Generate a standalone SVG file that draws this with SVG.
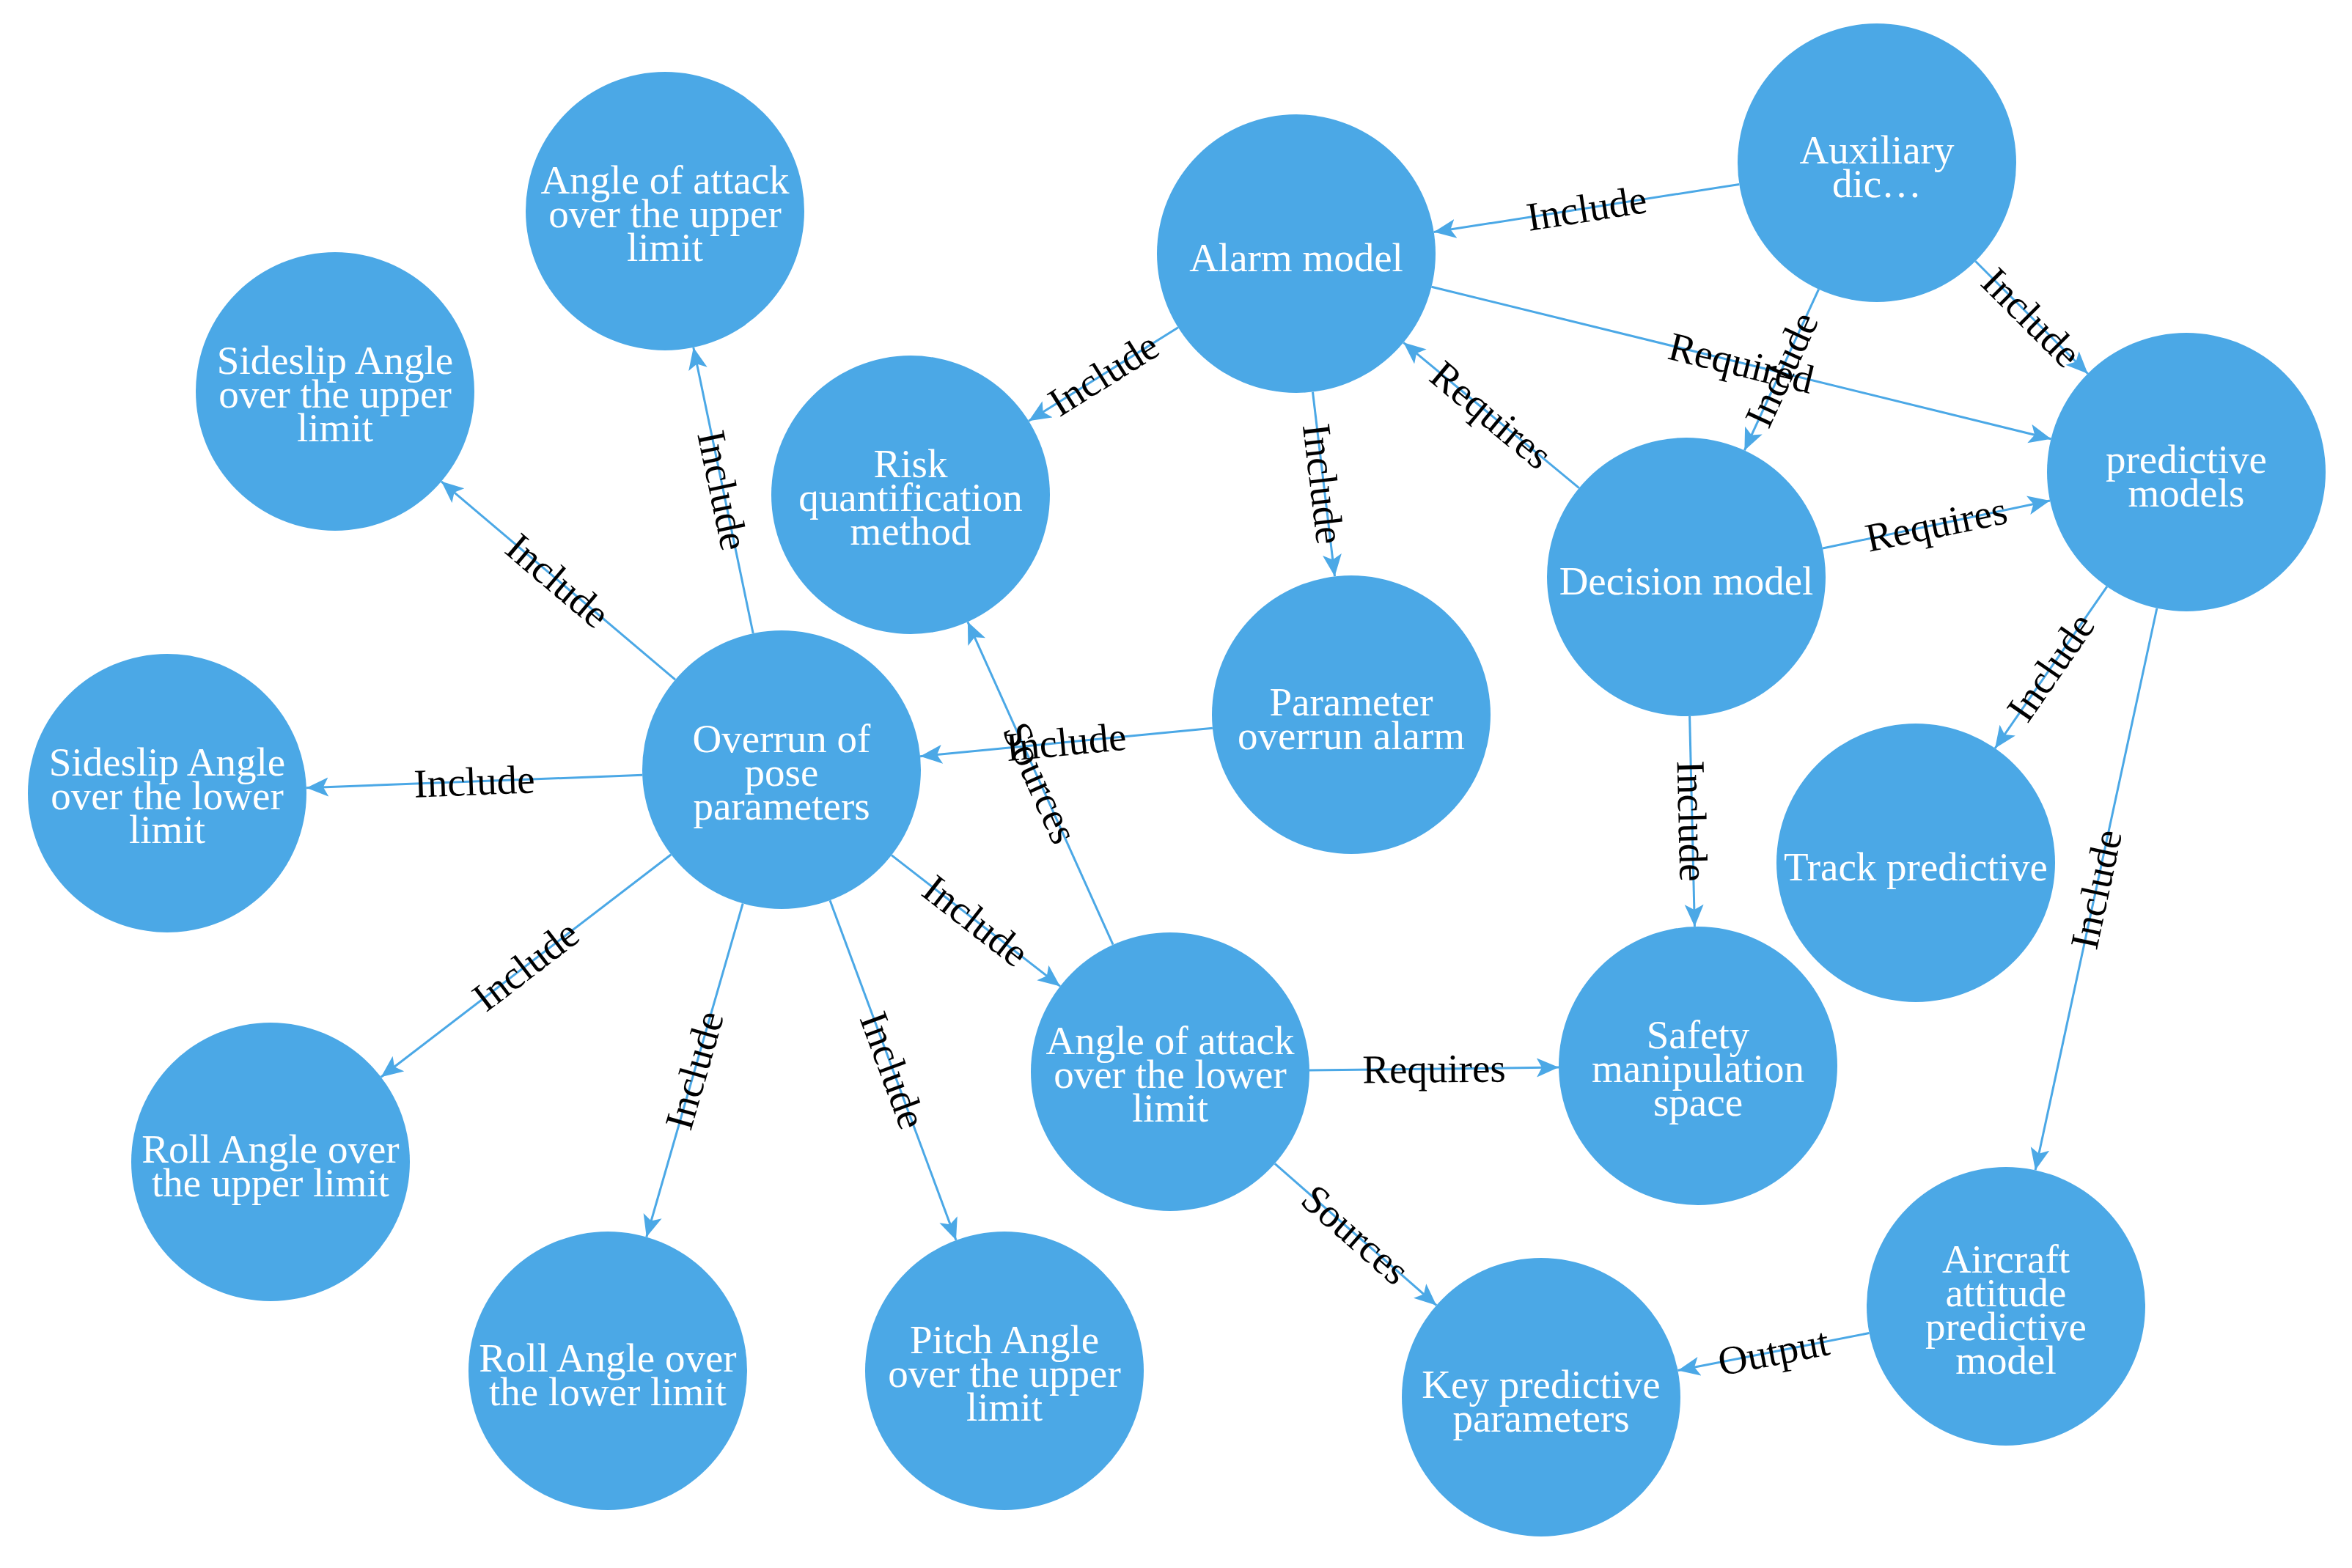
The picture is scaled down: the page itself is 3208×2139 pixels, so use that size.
<svg xmlns="http://www.w3.org/2000/svg" width="3208" height="2139" viewBox="0 0 3208 2139">
<style>
.node circle{fill:#4ba8e6;}
.node text{fill:#ffffff;font-family:"Liberation Serif","Times New Roman",serif;font-size:55px;text-anchor:middle;dominant-baseline:central;}
.edges line{stroke:#4ba8e6;stroke-width:3;marker-end:url(#arr);}
.lbl{fill:#000000;font-family:"Liberation Serif","Times New Roman",serif;font-size:55px;text-anchor:middle;dominant-baseline:central;}
</style>
<defs>
<marker id="arr" markerUnits="userSpaceOnUse" markerWidth="32" markerHeight="28" refX="30" refY="13" orient="auto">
<path d="M0,0 L30,13 L0,26 L7,13 z" fill="#4ba8e6"/>
</marker>
</defs>
<rect width="3208" height="2139" fill="#ffffff"/>
<g id="edges" class="edges">
<line x1="1027.2" y1="864" x2="945.8" y2="474"/>
<line x1="921" y1="927.2" x2="602" y2="656.8"/>
<line x1="876.1" y1="1057.3" x2="417.9" y2="1074.7"/>
<line x1="915.3" y1="1165.7" x2="519.7" y2="1469.3"/>
<line x1="1013.2" y1="1232.5" x2="881.8" y2="1687.5"/>
<line x1="1132" y1="1228.2" x2="1304" y2="1691.8"/>
<line x1="1216" y1="1166.6" x2="1446" y2="1345.4"/>
<line x1="1653.9" y1="993.3" x2="1255.1" y2="1031.7"/>
<line x1="1518.1" y1="1288.7" x2="1319.9" y2="848.3"/>
<line x1="1786" y1="1459.9" x2="2126" y2="1456.1"/>
<line x1="1738.8" y1="1587.3" x2="1959.2" y2="1780.7"/>
<line x1="2549.5" y1="1818.5" x2="2288.5" y2="1869.5"/>
<line x1="2941.9" y1="829.7" x2="2776.1" y2="1596.3"/>
<line x1="2873.9" y1="800.2" x2="2721.1" y2="1020.8"/>
<line x1="2304.6" y1="977" x2="2311.4" y2="1264"/>
<line x1="2486" y1="748" x2="2796" y2="683"/>
<line x1="2153.7" y1="665.7" x2="1914.3" y2="467.3"/>
<line x1="1790.5" y1="534.7" x2="1820.5" y2="786.3"/>
<line x1="1606.9" y1="446.8" x2="1403.1" y2="574.2"/>
<line x1="1952.5" y1="391.3" x2="2797.5" y2="598.7"/>
<line x1="2372.3" y1="251.4" x2="1955.7" y2="316.6"/>
<line x1="2480.6" y1="394.6" x2="2379.4" y2="614.4"/>
<line x1="2694.3" y1="356.3" x2="2847.7" y2="509.7"/>
<text class="lbl" transform="translate(986,669) rotate(78.2)">Include</text>
<text class="lbl" transform="translate(761,792) rotate(40.3)">Include</text>
<text class="lbl" transform="translate(647,1066) rotate(-2.2)">Include</text>
<text class="lbl" transform="translate(717,1317) rotate(-37.5)">Include</text>
<text class="lbl" transform="translate(947,1460) rotate(-73.9)">Include</text>
<text class="lbl" transform="translate(1218,1460) rotate(69.7)">Include</text>
<text class="lbl" transform="translate(1331,1256) rotate(37.9)">Include</text>
<text class="lbl" transform="translate(1454,1012) rotate(-5.5)">Include</text>
<text class="lbl" transform="translate(1419,1068) rotate(65.8)">Sources</text>
<text class="lbl" transform="translate(1956,1458) rotate(-0.6)">Requires</text>
<text class="lbl" transform="translate(1849,1684) rotate(41.3)">Sources</text>
<text class="lbl" transform="translate(2419,1844) rotate(-11.1)">Output</text>
<text class="lbl" transform="translate(2859,1213) rotate(-77.8)">Include</text>
<text class="lbl" transform="translate(2797,910) rotate(-55.3)">Include</text>
<text class="lbl" transform="translate(2308,1120) rotate(88.6)">Include</text>
<text class="lbl" transform="translate(2641,715) rotate(-11.8)">Requires</text>
<text class="lbl" transform="translate(2034,566) rotate(39.7)">Requires</text>
<text class="lbl" transform="translate(1805,660) rotate(83.2)">Include</text>
<text class="lbl" transform="translate(1505,510) rotate(-32)">Include</text>
<text class="lbl" transform="translate(2375,495) rotate(13.8)">Required</text>
<text class="lbl" transform="translate(2164,284) rotate(-8.9)">Include</text>
<text class="lbl" transform="translate(2430,504) rotate(-65.3)">Include</text>
<text class="lbl" transform="translate(2771,433) rotate(45)">Include</text>
</g>
<g id="n-aoa-upper" class="node"><circle cx="907" cy="288" r="190"/><text x="907" y="245">Angle of attack</text><text x="907" y="291">over the upper</text><text x="907" y="337">limit</text></g>
<g id="n-sideslip-upper" class="node"><circle cx="457" cy="534" r="190"/><text x="457" y="491">Sideslip Angle</text><text x="457" y="537">over the upper</text><text x="457" y="583">limit</text></g>
<g id="n-alarm" class="node"><circle cx="1768" cy="346" r="190"/><text x="1768" y="351">Alarm model</text></g>
<g id="n-auxiliary" class="node"><circle cx="2560" cy="222" r="190"/><text x="2560" y="204">Auxiliary</text><text x="2560" y="250">dic…</text></g>
<g id="n-predictive-models" class="node"><circle cx="2982" cy="644" r="190"/><text x="2982" y="626">predictive</text><text x="2982" y="672">models</text></g>
<g id="n-risk" class="node"><circle cx="1242" cy="675" r="190"/><text x="1242" y="632">Risk</text><text x="1242" y="678">quantification</text><text x="1242" y="724">method</text></g>
<g id="n-decision" class="node"><circle cx="2300" cy="787" r="190"/><text x="2300" y="792">Decision model</text></g>
<g id="n-param-alarm" class="node"><circle cx="1843" cy="975" r="190"/><text x="1843" y="957">Parameter</text><text x="1843" y="1003">overrun alarm</text></g>
<g id="n-overrun" class="node"><circle cx="1066" cy="1050" r="190"/><text x="1066" y="1007">Overrun of</text><text x="1066" y="1053">pose</text><text x="1066" y="1099">parameters</text></g>
<g id="n-sideslip-lower" class="node"><circle cx="228" cy="1082" r="190"/><text x="228" y="1039">Sideslip Angle</text><text x="228" y="1085">over the lower</text><text x="228" y="1131">limit</text></g>
<g id="n-track" class="node"><circle cx="2613" cy="1177" r="190"/><text x="2613" y="1182">Track predictive</text></g>
<g id="n-safety" class="node"><circle cx="2316" cy="1454" r="190"/><text x="2316" y="1411">Safety</text><text x="2316" y="1457">manipulation</text><text x="2316" y="1503">space</text></g>
<g id="n-aoa-lower" class="node"><circle cx="1596" cy="1462" r="190"/><text x="1596" y="1419">Angle of attack</text><text x="1596" y="1465">over the lower</text><text x="1596" y="1511">limit</text></g>
<g id="n-roll-upper" class="node"><circle cx="369" cy="1585" r="190"/><text x="369" y="1567">Roll Angle over</text><text x="369" y="1613">the upper limit</text></g>
<g id="n-roll-lower" class="node"><circle cx="829" cy="1870" r="190"/><text x="829" y="1852">Roll Angle over</text><text x="829" y="1898">the lower limit</text></g>
<g id="n-pitch-upper" class="node"><circle cx="1370" cy="1870" r="190"/><text x="1370" y="1827">Pitch Angle</text><text x="1370" y="1873">over the upper</text><text x="1370" y="1919">limit</text></g>
<g id="n-aircraft" class="node"><circle cx="2736" cy="1782" r="190"/><text x="2736" y="1717">Aircraft</text><text x="2736" y="1763">attitude</text><text x="2736" y="1809">predictive</text><text x="2736" y="1855">model</text></g>
<g id="n-key" class="node"><circle cx="2102" cy="1906" r="190"/><text x="2102" y="1888">Key predictive</text><text x="2102" y="1934">parameters</text></g>
</svg>
